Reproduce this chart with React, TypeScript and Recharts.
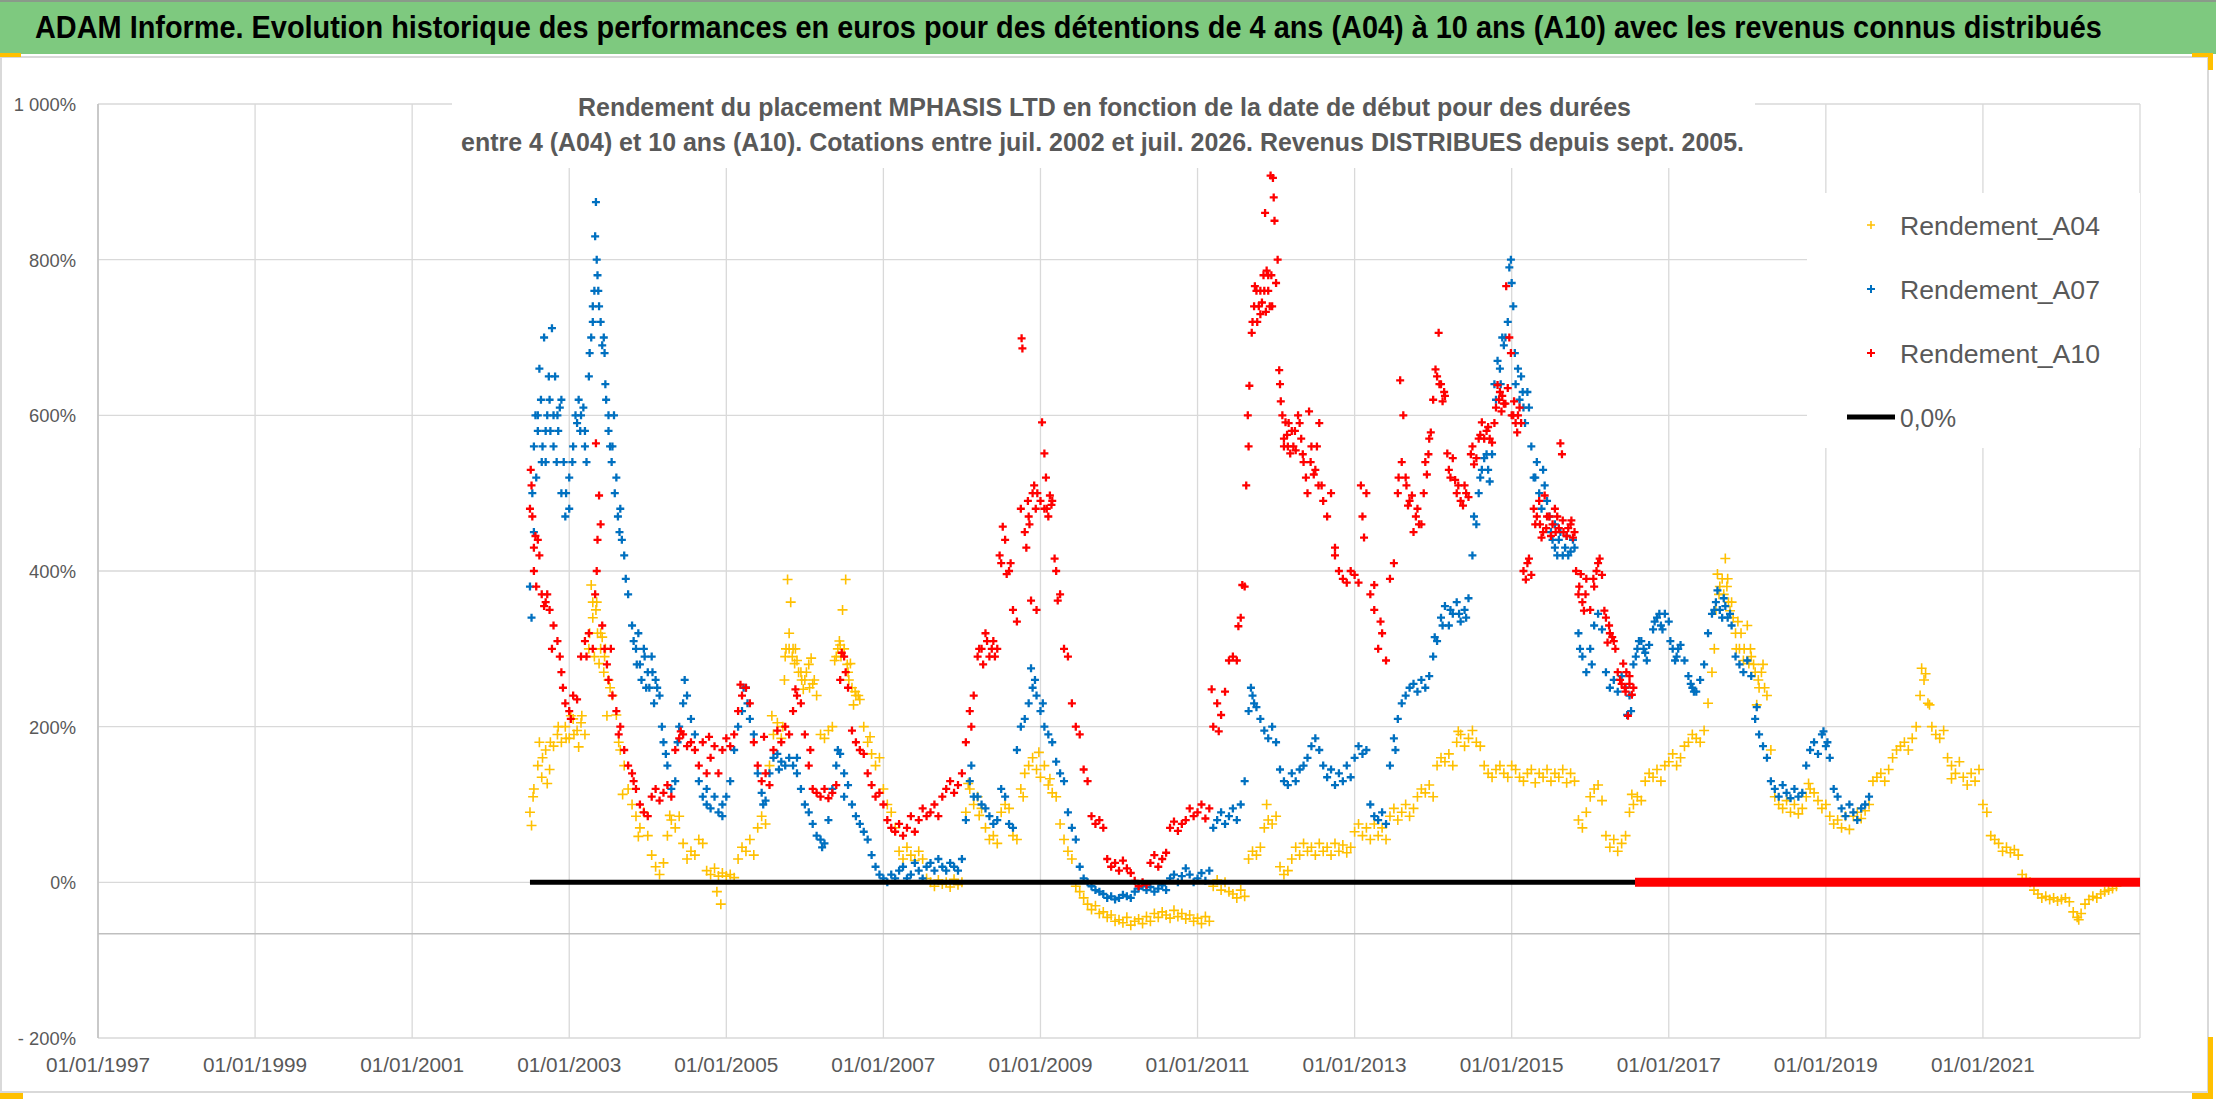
import React, { useLayoutEffect, useRef, useState } from "react";
import { ScatterChart, Scatter, XAxis, YAxis, CartesianGrid, ReferenceLine } from "recharts";

// --- data (rendement en %) ---
const xTicks = [1997, 1999, 2001, 2003, 2005, 2007, 2009, 2011, 2013, 2015, 2017, 2019, 2021];
const yTicks = [-200, 0, 200, 400, 600, 800, 1000];

// regular samples every 0.05 year from mid-2002
const STEP = 0.05;
const START = 2002.5;

const a04Values = [
  90, 120, 150, 135, 170, 145, 175, 190, 180, 200,
  185, 210, 195, 205, 190, 300, 340, 360, 320, 290, 260, 240, 215, 170, 150, 120, 100, 85, 70, 90,
  60, 35, 20, 10, 25, 60, 80, 70, 85, 50, 30, 40, 35, 55, 50, 15, 10, 18, 8, 12,
  8, 10, 6, 30, 45, 40, 55, 35, 70, 85, 75, 150, 190, 205, 185, 290, 320, 300, 285, 270,
  260, 280, 255, 240, 190, 185, 195, 200, 290, 305, 300, 270, 250, 240, 235, 200, 180, 165, 150, 160,
  120, 100, 90, 70, 40, 30, 45, 35, 28, 40, 30, 5, 0, -5, 3, -2, 0, -6, 4, -3,
  0, 90, 120, 100, 110, 95, 70, 55, 60, 50, 90, 100, 95, 60, 55, 120, 140, 150, 160, 145,
  135, 150, 125, 115, 110, 75, 55, 40, 30, -5, -12, -20, -28, -35, -30, -40, -38, -45, -42, -50,
  -48, -52, -45, -55, -50, -47, -53, -44, -50, -40, -45, -38, -42, -46, -36, -44, -40, -47, -42, -50,
  -46, -53, -44, -50, -5, 3, -10, 0, -12, -15, -20, -10, -18, 30, 40, 35, 45, 70, 80, 75,
  85, 20, 10, 15, 30, 45, 35, 50, 40, 45, 35, 50, 40, 45, 35, 50, 40, 48, 38, 45,
  65, 75, 60, 70, 55, 75, 60, 70, 55, 85, 95, 80, 90, 100, 85, 95, 110, 120, 115, 125,
  110, 150, 160, 155, 165, 150, 180, 190, 175, 185, 195, 180, 175, 150, 140, 135, 145, 150, 140, 135,
  150, 145, 135, 130, 140, 145, 128, 140, 135, 145, 130, 140, 135, 145, 128, 140, 130, 80, 70, 90,
  110, 120, 125, 105, 60, 45, 55, 40, 50, 60, 90, 100, 110, 105, 130, 140, 135, 145, 130, 150,
  155, 165, 150, 160, 175, 180, 190, 185, 180, 195, 230, 270, 350, 380, 370, 390, 360, 320, 300, 285,
  330, 290, 270, 250, 280, 240, 170, 110, 100, 95, 105, 90, 100, 88, 95, 110, 120, 115, 105, 95,
  100, 85, 75, 80, 70, 85, 68, 85, 90, 82, 92, 100, 130, 135, 140, 130, 145, 160, 170, 175,
  180, 170, 185, 200, 240, 260, 230, 200, 190, 185, 195, 160, 150, 140, 155, 135, 125, 140, 130, 145,
  100, 90, 60, 55, 50, 40, 45, 38, 42, 35, 10, 5, 0, -10, -15, -20, -18, -22, -20, -24,
  -22, -20, -25, -38, -45, -40, -28, -22, -18, -20, -15, -12, -10, -8, -5,
];
const a04Extra: [number, number][] = [
  [2002.52, 73], [2002.54, 110], [2002.62, 180], [2002.72, 127], [2003.02, 214], [2003.12, 174],
  [2003.28, 382], [2003.32, 290], [2003.38, 281], [2003.42, 315], [2003.48, 214], [2003.63, 180],
  [2003.68, 113], [2003.88, 59], [2004.28, 86], [2004.93, -28], [2004.88, -12], [2005.58, 214],
  [2005.78, 389], [2005.82, 360], [2005.87, 281], [2005.98, 248], [2006.08, 288], [2006.52, 389],
  [2006.48, 350], [2006.58, 281], [2006.62, 228], [2006.83, 187], [2008.08, 127], [2008.22, 86],
  [2008.78, 110], [2008.98, 167], [2009.12, 133], [2011.88, 100], [2014.32, 194], [2016.53, 113],
  [2017.62, 396], [2017.72, 416], [2017.78, 349], [2017.88, 335], [2018.02, 281], [2018.12, 228],
  [2018.78, 127], [2020.22, 275], [2020.27, 268], [2020.32, 228], [2020.6, 133], [2022.22, -48],
  [2002.66, 160], [2002.76, 180], [2002.86, 200], [2002.96, 185], [2003.06, 190], [2003.16, 214],
  [2003.26, 320], [2003.3, 360], [2003.34, 350], [2003.36, 320], [2003.4, 300], [2003.44, 270],
  [2003.46, 300], [2003.52, 250], [2005.72, 200], [2005.74, 260], [2005.76, 300], [2005.8, 300],
  [2005.84, 290], [2005.88, 300], [2005.92, 270], [2005.96, 260], [2006.02, 270], [2006.06, 250],
  [2006.12, 260], [2006.38, 285], [2006.42, 300], [2006.44, 310], [2006.46, 290], [2006.54, 280],
  [2006.56, 260], [2006.64, 245], [2006.68, 240], [2017.58, 300], [2017.64, 370], [2017.68, 390],
  [2017.74, 380], [2017.76, 360], [2017.82, 340], [2017.86, 300], [2017.92, 320], [2017.96, 300],
  [2018.04, 300], [2018.08, 280], [2018.14, 260], [2018.18, 270], [2018.22, 250],
];

const a07Values = [
  380, 560, 600, 540, 580, 620, 560, 600, 500, 470,
  480, 560, 590, 600, 580, 650, 740, 800, 720, 680, 600, 560, 520, 480, 420, 370, 330, 300, 280, 300,
  270, 290, 260, 240, 180, 150, 120, 130, 200, 230, 240, 210, 190, 130, 110, 100, 95, 110, 90, 100,
  110, 130, 170, 200, 220, 250, 210, 190, 140, 115, 105, 140, 160, 165, 155, 150, 160, 150, 140, 120,
  100, 90, 75, 60, 55, 50, 80, 120, 150, 165, 140, 125, 100, 85, 75, 65, 55, 35, 20, 10,
  5, 0, 10, 5, 15, 20, 5, 10, 25, 15, 5, 20, 25, 15, 30, 20, 15, 25, 20, 15,
  30, 80, 130, 110, 110, 100, 95, 85, 75, 80, 120, 110, 75, 70, 170, 200, 210, 230, 250, 240,
  220, 200, 190, 180, 155, 140, 130, 90, 70, 55, 20, 5, 0, -5, -10, -12, -15, -20, -18, -22,
  -20, -16, -18, -20, -12, -8, -5, -10, -6, -12, -8, -4, -10, 5, 10, 0, 8, 18, 10, 0,
  5, 12, 2, 15, 70, 80, 90, 75, 85, 95, 80, 100, 130, 220, 240, 225, 210, 195, 185, 200,
  180, 145, 130, 125, 140, 130, 145, 150, 160, 175, 185, 170, 150, 135, 145, 125, 140, 130, 150, 135,
  160, 175, 165, 170, 100, 85, 80, 90, 75, 150, 185, 210, 230, 240, 250, 255, 245, 260, 250, 265,
  290, 310, 340, 355, 330, 345, 360, 335, 350, 365, 420, 460, 520, 545, 530, 550, 620, 660, 690, 720,
  770, 640, 620, 610, 630, 560, 520, 500, 530, 490, 450, 430, 440, 420, 445, 425, 430, 320, 290, 270,
  300, 330, 345, 325, 270, 250, 260, 245, 265, 250, 240, 280, 300, 310, 295, 305, 325, 340, 330, 345,
  335, 300, 290, 305, 285, 265, 250, 245, 260, 280, 320, 345, 360, 350, 365, 340, 330, 290, 280, 270,
  285, 265, 210, 190, 175, 160, 130, 120, 110, 125, 115, 108, 120, 110, 115, 150, 170, 180, 165, 190,
  175, 160, 120, 110, 95, 85, 100, 90, 80, 95, 100, 110,
];
const a07Extra: [number, number][] = [
  [2002.52, 340], [2002.55, 450], [2002.57, 600], [2002.62, 660], [2002.68, 700], [2002.78, 712],
  [2002.82, 650], [2002.88, 610], [2002.93, 540], [2003.0, 520], [2003.12, 620], [2003.2, 560],
  [2003.28, 700], [2003.32, 760], [2003.34, 874], [2003.33, 830], [2003.37, 760], [2003.42, 690],
  [2003.47, 620], [2003.52, 560], [2003.57, 600], [2003.62, 470], [2003.67, 440], [2003.72, 390],
  [2003.88, 320], [2003.98, 250], [2004.08, 230], [2004.18, 200], [2004.23, 165], [2004.38, 180],
  [2004.47, 260], [2004.75, 120], [2004.95, 85], [2005.22, 250], [2005.27, 230], [2005.47, 100],
  [2005.67, 145], [2005.9, 160], [2006.22, 45], [2006.42, 170], [2006.5, 110], [2008.12, 150],
  [2008.88, 275], [2008.93, 260], [2009.03, 230], [2011.68, 250], [2011.72, 230], [2013.52, 170],
  [2014.02, 315], [2014.33, 345], [2014.52, 470], [2014.58, 500], [2014.88, 700], [2014.97, 790],
  [2014.99, 800], [2015.02, 740], [2015.08, 660], [2015.12, 650], [2015.17, 590], [2015.32, 540],
  [2015.38, 480], [2015.55, 460], [2015.87, 300], [2016.02, 280], [2016.47, 215], [2016.52, 220],
  [2017.62, 375], [2017.68, 340], [2018.12, 225], [2018.97, 194], [2019.02, 180],
  [2002.53, 500], [2002.58, 520], [2002.6, 580], [2002.64, 620], [2002.66, 560], [2002.7, 540],
  [2002.72, 600], [2002.74, 650], [2002.76, 580], [2002.8, 600], [2002.84, 540], [2002.86, 580],
  [2002.9, 620], [2002.96, 500], [2003.04, 540], [2003.08, 600], [2003.14, 580], [2003.18, 610],
  [2003.22, 540], [2003.26, 680], [2003.3, 720], [2003.36, 780], [2003.38, 740], [2003.44, 700],
  [2003.46, 640], [2003.5, 580], [2003.54, 540], [2003.58, 500], [2003.64, 450], [2003.82, 310],
  [2003.86, 280], [2003.92, 260], [2003.96, 290], [2004.02, 250], [2004.06, 270], [2004.12, 250],
  [2014.12, 330], [2014.22, 350], [2014.42, 340], [2014.62, 530], [2014.68, 550], [2014.72, 515],
  [2014.78, 640], [2014.82, 670], [2014.86, 640], [2014.92, 700], [2015.04, 680], [2015.14, 630],
  [2015.22, 610], [2015.28, 520], [2015.42, 510], [2015.48, 470], [2015.52, 440], [2015.58, 420],
  [2015.62, 450], [2015.68, 430], [2015.72, 420], [2015.78, 440], [2016.58, 290], [2016.62, 310],
  [2016.68, 300], [2016.72, 285], [2016.82, 335], [2016.88, 345], [2016.92, 325], [2017.02, 310],
  [2017.08, 285], [2017.12, 300], [2017.28, 255], [2017.32, 245], [2017.58, 350], [2017.72, 355],
  [2017.78, 345],
];

const a10Values = [
  480, 430, 440, 370, 360, 350, 330, 310, 270, 230,
  220, 240, 235, 290, 310, 320, 300, 400, 460, 300, 260, 240, 220, 200, 170, 150, 140, 120, 100, 90,
  85, 110, 120, 105, 115, 125, 110, 170, 185, 190, 175, 180, 170, 150, 180, 140, 160, 175, 140, 170,
  185, 175, 190, 220, 240, 250, 230, 180, 150, 130, 140, 125, 170, 195, 180, 200, 190, 220, 240, 230,
  190, 150, 120, 115, 110, 120, 108, 115, 125, 260, 290, 250, 195, 180, 170, 165, 140, 125, 110, 115,
  100, 80, 70, 65, 75, 60, 70, 85, 65, 80, 95, 85, 90, 100, 85, 110, 120, 130, 115, 125,
  140, 180, 220, 240, 290, 300, 320, 290, 310, 300, 410, 440, 400, 350, 335, 480, 450, 470, 500, 350,
  490, 480, 470, 490, 400, 370, 300, 290, 230, 200, 190, 145, 130, 85, 75, 80, 70, 30, 20, 25,
  15, 28, 18, 12, 2, -5, 0, -3, 25, 35, 20, 30, 38, 70, 78, 66, 75, 80, 95, 85,
  90, 100, 82, 95, 200, 230, 215, 245, 285, 290, 285, 340, 380, 560, 720, 760, 730, 760, 780, 740,
  770, 640, 570, 560, 580, 555, 590, 540, 500, 560, 530, 590, 490, 470, 500, 420, 400, 390, 385, 400,
  395, 385, 470, 500, 370, 350, 300, 320, 285, 390, 410, 500, 540, 520, 490, 450, 480, 460, 540, 570,
  620, 650, 640, 625, 530, 545, 500, 490, 510, 495, 560, 545, 575, 570, 585, 565, 610, 630, 615, 635,
  600, 590, 610, 400, 410, 395, 460, 490, 450, 470, 445, 480, 455, 465, 445, 460, 450, 370, 360, 390,
  350, 380, 410, 395, 340, 320, 310, 270, 255, 245, 265, 250,
];
const a10Extra: [number, number][] = [
  [2002.51, 530], [2002.52, 510], [2002.53, 470], [2002.55, 400], [2002.57, 445], [2002.58, 380],
  [2002.62, 420], [2002.68, 355], [2002.72, 370], [2002.78, 300], [2002.88, 290], [2002.92, 250],
  [2003.02, 210], [2003.22, 290], [2003.33, 370], [2003.36, 440], [2003.38, 497], [2003.34, 564],
  [2003.42, 330], [2003.48, 280], [2003.53, 300], [2003.63, 190], [2003.82, 130], [2004.42, 194],
  [2004.78, 187], [2005.18, 254], [2005.48, 187], [2005.88, 248], [2006.07, 170], [2006.47, 295],
  [2006.52, 270], [2008.12, 200], [2008.27, 280], [2008.52, 457], [2008.57, 396], [2008.76, 699],
  [2008.77, 686], [2008.82, 430], [2008.88, 362], [2008.92, 510], [2009.02, 591], [2009.05, 551],
  [2009.07, 520], [2009.12, 497], [2009.18, 416], [2009.22, 362], [2011.18, 248], [2011.27, 194],
  [2011.52, 329], [2011.57, 382], [2011.62, 510], [2011.64, 600], [2011.66, 638], [2011.69, 706],
  [2011.73, 766], [2011.78, 740], [2011.88, 786], [2011.87, 733], [2011.86, 860], [2011.93, 908],
  [2011.96, 905], [2011.97, 880], [2011.98, 850], [2012.02, 800], [2012.04, 658], [2012.06, 618],
  [2012.08, 600], [2012.12, 591], [2012.18, 551], [2012.28, 600], [2012.38, 520], [2012.42, 605],
  [2012.48, 524], [2012.58, 510], [2012.75, 430], [2013.08, 510], [2013.12, 443], [2013.25, 382],
  [2013.33, 335], [2013.58, 645], [2013.62, 600], [2013.68, 484], [2013.73, 497], [2013.92, 524],
  [2013.97, 578], [2014.07, 706], [2014.03, 659], [2014.12, 618], [2014.18, 551], [2014.28, 517],
  [2014.38, 484], [2014.52, 537], [2014.62, 591], [2014.82, 639], [2014.87, 605], [2014.93, 766],
  [2014.97, 700], [2014.99, 680], [2015.03, 618], [2015.07, 578], [2015.18, 389], [2015.22, 416],
  [2015.38, 443], [2015.42, 497], [2015.62, 564], [2015.64, 550], [2015.78, 443], [2015.88, 396],
  [2015.92, 349], [2016.12, 416], [2016.18, 349], [2016.22, 308], [2016.42, 281], [2016.48, 214],
  [2016.53, 241],
  [2011.72, 740], [2011.76, 720], [2011.8, 760], [2011.82, 745], [2011.84, 780], [2011.9, 760],
  [2011.92, 740], [2011.94, 780], [2012.1, 560], [2012.14, 575], [2012.16, 590], [2012.22, 560],
  [2012.24, 580], [2012.32, 570], [2012.34, 550], [2012.44, 540], [2012.52, 560], [2012.54, 510],
  [2013.56, 520], [2013.66, 510], [2013.78, 470], [2013.82, 460], [2013.88, 500], [2013.94, 550],
  [2014.08, 640], [2014.14, 630], [2014.22, 520], [2014.32, 510], [2014.42, 500], [2014.48, 550],
  [2014.58, 570], [2014.68, 580], [2014.72, 570], [2014.78, 590], [2014.84, 620], [2014.88, 625],
  [2014.92, 615], [2015.02, 600], [2015.08, 600], [2015.12, 590], [2015.28, 480], [2015.32, 470],
  [2015.36, 460], [2015.44, 455], [2015.48, 470], [2015.52, 460], [2015.56, 450], [2015.58, 470],
  [2015.66, 450], [2015.72, 455], [2015.76, 465], [2015.82, 400], [2015.86, 380], [2015.94, 370],
  [2016.04, 390], [2016.08, 400], [2016.24, 330], [2016.28, 315], [2016.32, 300], [2016.38, 260],
  [2016.44, 250], [2016.46, 270], [2016.5, 255], [2008.22, 300], [2008.32, 310], [2008.38, 300],
  [2008.42, 290], [2008.48, 420], [2008.62, 410], [2008.84, 490], [2008.86, 460], [2008.94, 480],
  [2008.96, 500], [2009.08, 480], [2009.14, 485],
];
// A10 has no 10-year window after mid-2016: plotted at 0
const a10ZeroSpan: [number, number][] = [[2016.57, 0], [2023.0, 0]];
// reference series "0,0%"
const zeroSpan: [number, number][] = [[2002.5, 0], [2016.57, 0]];

const toPoints = (values: number[], extra: [number, number][]) => [
  ...values.map((v, i) => ({ x: +(START + i * STEP).toFixed(2), y: v })),
  ...extra.map(([x, y]) => ({ x, y })),
];
const pairs = (p: [number, number][]) => p.map(([x, y]) => ({ x, y }));

const a04 = toPoints(a04Values, a04Extra);
const a07 = toPoints(a07Values, a07Extra);
const a10 = toPoints(a10Values, a10Extra);

const TITLE =
  "ADAM Informe. Evolution historique des performances en euros pour des détentions de 4 ans (A04) à 10 ans (A10) avec les revenus connus distribués";

const YELLOW = "#FFC000";
const BLUE = "#0070C0";
const RED = "#FF0000";
const GREY_TXT = "#595959";
const FONT = '"Liberation Sans", Arial, sans-serif';

// rough Calibri advance widths, used to fit the substitute font
const calibri = (s: string, fs: number) => {
  let w = 0;
  for (const c of s) {
    if (c >= "0" && c <= "9") w += 0.507;
    else if (c === "%") w += 0.715;
    else if (c === "/") w += 0.386;
    else if (c === "-") w += 0.306;
    else w += 0.226;
  }
  return w * fs;
};

const plus = (color: string, r: number, w: number) => (props: any) => {
  const { cx, cy } = props;
  if (cx == null || cy == null) return <g />;
  return (
    <path
      d={`M${cx - r},${cy}H${cx + r}M${cx},${cy - r}V${cy + r}`}
      stroke={color}
      strokeWidth={w}
      fill="none"
    />
  );
};

const fmtY = (v: number) => (v === 1000 ? "1 000%" : v < 0 ? `- ${-v}%` : `${v}%`);

const YTick = (props: any) => {
  const { x, y, payload } = props;
  const label = fmtY(payload.value);
  return (
    <text
      x={x - 20}
      y={y + 7}
      textAnchor="end"
      fontSize={19}
      fontFamily={FONT}
      fill={GREY_TXT}
      textLength={calibri(label, 21)}
      lengthAdjust="spacingAndGlyphs"
    >
      {label}
    </text>
  );
};

const XTick = (props: any) => {
  const { x, y, payload } = props;
  const label = `01/01/${payload.value}`;
  return (
    <text
      x={x}
      y={y + 8}
      textAnchor="middle"
      fontSize={20}
      fontFamily={FONT}
      fill={GREY_TXT}
      textLength={104}
      lengthAdjust="spacingAndGlyphs"
    >
      {label}
    </text>
  );
};

const noDot = () => <g />;

// HTML title squeezed to the reference width
function FitTitle({ text, left, top, width }: { text: string; left: number; top: number; width: number }) {
  const ref = useRef<HTMLSpanElement>(null);
  const [k, setK] = useState(1);
  useLayoutEffect(() => {
    if (ref.current && ref.current.offsetWidth > 0) setK(width / ref.current.offsetWidth);
  }, [text, width]);
  return (
    <span
      ref={ref}
      style={{
        position: "absolute",
        left,
        top,
        whiteSpace: "nowrap",
        fontFamily: FONT,
        fontWeight: "bold",
        fontSize: 31,
        lineHeight: "36px",
        color: "#000",
        transform: `scaleX(${k})`,
        transformOrigin: "0 0",
      }}
    >
      {text}
    </span>
  );
}

export default function App() {
  return (
    <div style={{ position: "relative", width: 2216, height: 1102, background: "#fff", overflow: "hidden" }}>
      <style>{"body{margin:0}"}</style>
      <ScatterChart width={2216} height={1102} margin={{ top: 104, right: 76, bottom: 14, left: 0 }}>
        <CartesianGrid stroke="#d9d9d9" strokeWidth={1.3} />
        <XAxis
          type="number"
          dataKey="x"
          domain={[1997, 2023]}
          ticks={xTicks}
          allowDataOverflow
          height={50}
          axisLine={false}
          tickLine={false}
          tickSize={0}
          tickMargin={26}
          tick={<XTick />}
          interval={0}
        />
        <YAxis
          type="number"
          dataKey="y"
          domain={[-200, 1000]}
          ticks={yTicks}
          allowDataOverflow
          width={98}
          axisLine={{ stroke: "#bfbfbf", strokeWidth: 1.5 }}
          tickLine={false}
          tickSize={0}
          tick={<YTick />}
          interval={0}
        />
        <ReferenceLine y={-66} stroke="#bfbfbf" strokeWidth={1.5} />
        <Scatter name="Rendement_A04" data={a04} shape={plus(YELLOW, 5, 1.6)} isAnimationActive={false} />
        <Scatter name="Rendement_A07" data={a07} shape={plus(BLUE, 4, 2.3)} isAnimationActive={false} />
        <Scatter name="Rendement_A10" data={a10} shape={plus(RED, 4, 2.3)} isAnimationActive={false} />
        <Scatter
          name="Rendement_A10_zero"
          data={pairs(a10ZeroSpan)}
          shape={noDot}
          line={{ stroke: RED, strokeWidth: 9 }}
          isAnimationActive={false}
        />
        <Scatter
          name="0,0%"
          data={pairs(zeroSpan)}
          shape={noDot}
          line={{ stroke: "#000", strokeWidth: 5 }}
          isAnimationActive={false}
        />
      </ScatterChart>

      <svg
        width={2216}
        height={1102}
        style={{ position: "absolute", left: 0, top: 0, pointerEvents: "none" }}
      >
        {/* outer frame */}
        <rect x={1} y={57} width={2207} height={1035} fill="none" stroke="#d9d9d9" strokeWidth={2} />
        {/* title bar */}
        <rect x={0} y={0} width={2216} height={54} fill="#7EC97F" />
        <rect x={0} y={0} width={2216} height={2} fill="#8a9a8a" />
        {/* subtitle box */}
        <rect x={452} y={94} width={1303} height={74} fill="#fff" />
        <text x={578} y={116} fontSize={25} fontWeight="bold" fontFamily={FONT} fill={GREY_TXT} textLength={1053} lengthAdjust="spacingAndGlyphs">
          Rendement du placement MPHASIS LTD en fonction de la date de début pour des durées
        </text>
        <text x={461} y={151} fontSize={25} fontWeight="bold" fontFamily={FONT} fill={GREY_TXT} textLength={1283} lengthAdjust="spacingAndGlyphs">
          entre 4 (A04) et 10 ans (A10). Cotations entre juil. 2002 et juil. 2026. Revenus DISTRIBUES depuis sept. 2005.
        </text>
        {/* legend */}
        <rect x={1807} y={193} width={333} height={255} fill="#fff" />
        <path d="M1867,225H1875M1871,221V229" stroke={YELLOW} strokeWidth={1.5} />
        <path d="M1867,289H1875M1871,285V293" stroke={BLUE} strokeWidth={2} />
        <path d="M1867,353H1875M1871,349V357" stroke={RED} strokeWidth={2} />
        <line x1={1847} y1={417} x2={1895} y2={417} stroke="#000" strokeWidth={5} />
        {["Rendement_A04", "Rendement_A07", "Rendement_A10"].map((t, i) => (
          <text key={t} x={1900} y={235 + i * 64} fontSize={26} fontFamily={FONT} fill={GREY_TXT} textLength={200} lengthAdjust="spacingAndGlyphs">
            {t}
          </text>
        ))}
        <text x={1900} y={427} fontSize={26} fontFamily={FONT} fill={GREY_TXT} textLength={56} lengthAdjust="spacingAndGlyphs">
          0,0%
        </text>
        {/* selection handles */}
        <rect x={0} y={53} width={21} height={4} fill={YELLOW} />
        <rect x={2192} y={53} width={21} height={4} fill={YELLOW} />
        <rect x={2208} y={53} width={5} height={17} fill={YELLOW} />
        <rect x={0} y={1093} width={23} height={6} fill={YELLOW} />
        <rect x={2192} y={1093} width={21} height={6} fill={YELLOW} />
        <rect x={2208} y={1037} width={5} height={62} fill={YELLOW} />
      </svg>
      <FitTitle text={TITLE} left={35} top={10} width={2067} />
    </div>
  );
}
